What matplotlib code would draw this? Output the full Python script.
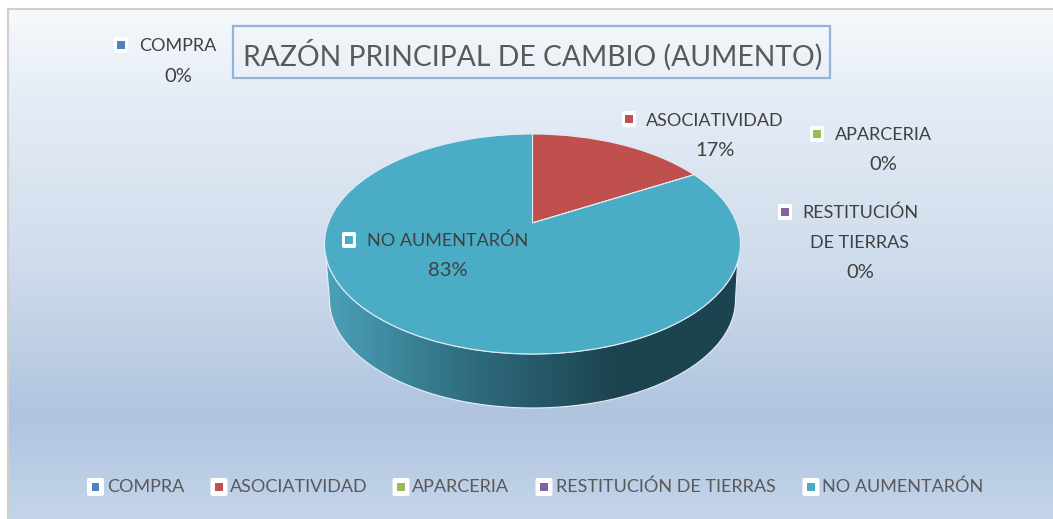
import matplotlib
matplotlib.use('Agg')
import matplotlib.pyplot as plt
import numpy as np
from matplotlib.colors import LinearSegmentedColormap
from matplotlib.patches import FancyBboxPatch, Rectangle, PathPatch
from matplotlib.path import Path
from matplotlib.transforms import Transform

plt.rcParams['font.family'] = ['Lato', 'DejaVu Sans']

categories = ['COMPRA', 'ASOCIATIVIDAD', 'APARCERIA', 'RESTITUCIÓN DE TIERRAS', 'NO AUMENTARÓN']
values = [0, 16.7, 0, 0, 83.3]
colors = ['#4f81bd', '#c0504d', '#9bbb59', '#8064a2', '#4bacc6']
title = 'RAZÓN PRINCIPAL DE CAMBIO (AUMENTO)'

# label text, key x, key y, text x, first line y
label_names = ['COMPRA', 'ASOCIATIVIDAD', 'APARCERIA', 'RESTITUCIÓN\nDE TIERRAS', 'NO AUMENTARÓN']
label_pos = [(121, 45, 178, 46), (629, 119, 715, 121), (817, 134, 883, 135), (785, 212, 860, 213), (349, 240, 448, 241)]
legend_keys = [95.5, 219, 401, 544, 811]
legend_text = [107, 230, 412, 556, 822]

W, H = 1053, 519
CX, CY, A, B, PULL = 532.5, 244, 208, 110, 21


class Tilt(Transform):
    # unit pie -> tilted ellipse, centre of the pie gets pulled back like in 3D
    input_dims = 2
    output_dims = 2
    is_affine = False

    def transform_non_affine(self, xy):
        xy = np.asarray(xy)
        k = PULL / B
        d = 1 + k * xy[:, 1]
        return np.column_stack([CX + A * np.sqrt(1 - k * k) * xy[:, 0] / d,
                                CY - (B * xy[:, 1] + PULL) / d])


fig = plt.figure(figsize=(W / 100, H / 100), dpi=100)
ax = fig.add_axes([0, 0, 1, 1])

wedges, _ = ax.pie(values, colors=colors, startangle=90, counterclock=False,
                   wedgeprops=dict(edgecolor='#dfeaf2', linewidth=0.8))
ax.set_aspect('auto')
ax.axis('off')
for w in wedges:
    w.set_transform(Tilt() + ax.transData)
    w.set_zorder(4)

# background panel, runs off the right and bottom of the picture
bg = LinearSegmentedColormap.from_list('bg', [(0, '#f6f9fc'), (0.18, '#e5ecf6'), (0.5, '#cfdcec'),
                                              (0.8, '#b0c4df'), (1, '#c4d5ea')])
ax.imshow(np.linspace(0, 1, 256).reshape(-1, 1), cmap=bg, extent=[8, W, H, 9], aspect='auto', zorder=1)
ax.plot([8, 8], [H, 9], color='#cfcfcf', lw=1.5, zorder=2)
ax.plot([8, W], [9, 9], color='#cfcfcf', lw=1.5, zorder=2)

# pie side
t = np.linspace(0, np.pi, 200)
top_x, top_y = CX + A * np.cos(t), CY + B * np.sin(t)
bot_x, bot_y = CX + 203 * np.cos(t), 300 + 108 * np.sin(t)
side = np.vstack([np.column_stack([bot_x, bot_y]), [[326, 258]], np.column_stack([top_x, top_y])[::-1][8:-8], [[738, 256]]])
clip = PathPatch(Path(np.vstack([side, side[:1]])), fc='none', ec='#e8eff6', lw=0.8, zorder=3)
ax.add_patch(clip)
side_cm = LinearSegmentedColormap.from_list('side', [(0, '#4ba1b9'), (0.35, '#2f6c7e'), (0.7, '#1c4450'), (1, '#1c4450')])
im = ax.imshow(np.linspace(0, 1, 256).reshape(1, -1), cmap=side_cm, extent=[326, 738, 410, 250], aspect='auto', zorder=2.5)
im.set_clip_path(clip)
ax.set_xlim(0, W)
ax.set_ylim(H, 0)


def key(x, y, c, w=14, h=16):
    ax.add_patch(FancyBboxPatch((x - w / 2 + 2, y - h / 2 + 2), w - 4, h - 4, boxstyle='round,pad=2',
                                fc='white', ec='none', zorder=5))
    ax.add_patch(Rectangle((x - 3.7, y - 3.7), 7.4, 7.4, fc=c, ec='none', zorder=6))


# data labels
for name, val, c, (kx, ky, tx, ty) in zip(label_names, values, colors, label_pos):
    key(kx, ky, c)
    lines = name.split('\n')
    for i, s in enumerate(lines):
        ax.text(tx, ty + i * 30, s, ha='center', va='center', fontsize=13, color='#404040', zorder=7)
    ax.text(tx, ty + len(lines) * 30, '%.0f%%' % val, ha='center', va='center', fontsize=14.5,
            color='#404040', zorder=7)

# legend
for name, c, kx, tx in zip(categories, colors, legend_keys, legend_text):
    key(kx, 487, c, w=17, h=18)
    ax.text(tx, 487, name, ha='left', va='center', fontsize=13, color='#595959', zorder=7)

# title box
ax.add_patch(Rectangle((233, 26), 597, 52, fc='none', ec='#95b3d7', lw=1.6, zorder=5))
ax.text(533, 55, title, ha='center', va='center', fontsize=20.3, color='#595959', zorder=7)

fig.savefig('out.png', dpi=100)
